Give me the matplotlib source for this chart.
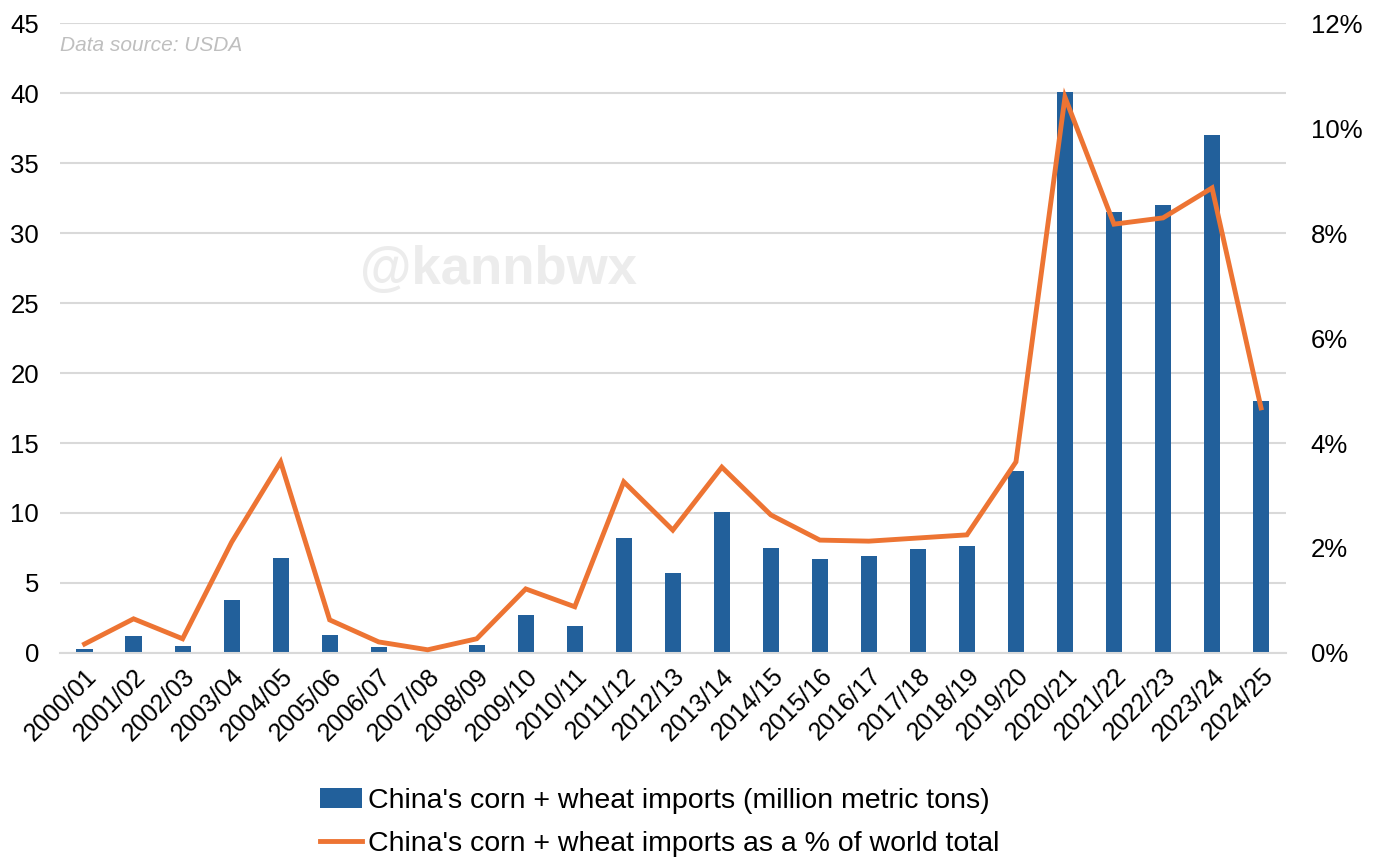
import matplotlib
matplotlib.use("Agg")
import matplotlib.pyplot as plt
from matplotlib.ticker import FuncFormatter, MultipleLocator
import numpy as np

plt.rcParams['font.family'] = ['Liberation Sans', 'DejaVu Sans']

seasons = ["2000/01", "2001/02", "2002/03", "2003/04", "2004/05", "2005/06", "2006/07",
           "2007/08", "2008/09", "2009/10", "2010/11", "2011/12", "2012/13", "2013/14",
           "2014/15", "2015/16", "2016/17", "2017/18", "2018/19", "2019/20", "2020/21",
           "2021/22", "2022/23", "2023/24", "2024/25"]
imports_mmt = [0.3, 1.2, 0.5, 3.8, 6.8, 1.3, 0.45, 0.05, 0.55, 2.7, 1.9, 8.2, 5.7, 10.1,
               7.5, 6.7, 6.9, 7.4, 7.65, 13.0, 40.1, 31.5, 32.0, 37.0, 18.0]
share_pct = [0.17, 0.65, 0.27, 2.11, 3.64, 0.63, 0.21, 0.06, 0.27, 1.22, 0.88, 3.26, 2.34,
             3.54, 2.63, 2.15, 2.13, 2.19, 2.25, 3.64, 10.59, 8.17, 8.29, 8.86, 4.67]

bar_label = "China's corn + wheat imports (million metric tons)"
line_label = "China's corn + wheat imports as a % of world total"

fig = plt.figure(figsize=(13.77, 8.58), dpi=100)
ax = fig.add_axes([0.0436, 0.239, 0.890, 0.734])
ax2 = ax.twinx()

x = np.arange(len(seasons))
bars = ax.bar(x, imports_mmt, width=0.33, color='#22609b', label=bar_label, zorder=2)
line, = ax2.plot(x, share_pct, color='#ed7433', lw=3.5, label=line_label, zorder=3,
                 solid_joinstyle='miter')

ax.set_xlim(-0.5, len(seasons) - 0.5)
ax.set_ylim(0, 45)
ax2.set_ylim(0, 12)
ax.yaxis.set_major_locator(MultipleLocator(5))
ax2.yaxis.set_major_locator(MultipleLocator(2))
ax2.yaxis.set_major_formatter(FuncFormatter(lambda v, p: f"{v:.0f}%"))

ax.grid(axis='y', color='#d9d9d9', lw=1.5, zorder=0)
ax.set_axisbelow(True)
for a in (ax, ax2):
    for s in a.spines.values():
        s.set_visible(False)
    a.tick_params(length=0)
ax.spines['bottom'].set_visible(True)
ax.spines['bottom'].set_color('#d9d9d9')
ax.spines['bottom'].set_linewidth(1.5)

ax.tick_params(axis='y', labelsize=18.5, pad=15)
ax2.tick_params(axis='y', labelsize=18.5, pad=18)
ax.set_xticks(x)
ax.set_xticklabels(seasons, rotation=45, ha='right', rotation_mode='anchor', fontsize=18)
ax.tick_params(axis='x', pad=8)

ax.text(0.0, 0.965, "Data source: USDA", transform=ax.transAxes, fontsize=15,
        style='italic', color='#bfbfbf', ha='left', va='center')
fig.text(0.362, 0.685, "@kannbwx", fontsize=38, fontweight='bold', color='#ececec',
         ha='center', va='center', zorder=0)

fig.legend([bars, line], [bar_label, line_label], loc='center', ncol=1,
           bbox_to_anchor=(0.479, 0.041), frameon=False, fontsize=20.5,
           handlelength=1.5, handletextpad=0.2, labelspacing=0.6)

fig.savefig("out.png", dpi=100)
